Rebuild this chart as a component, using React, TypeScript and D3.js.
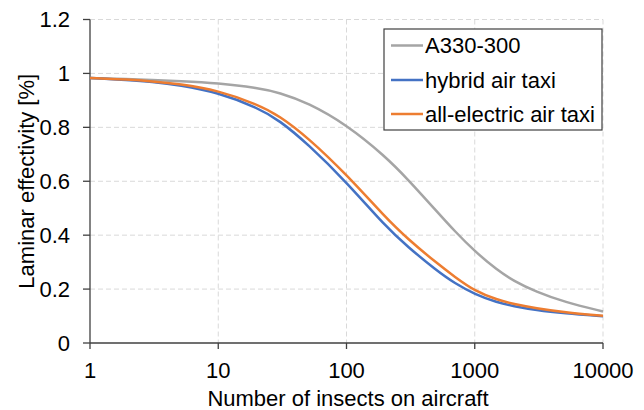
import React from "react";
import * as d3 from "d3";

const insects = [1, 2, 3, 5, 10, 20, 30, 50, 100, 200, 300, 500, 700, 1000, 1500, 2000, 3000, 5000, 10000];
const a330 = [0.983, 0.979, 0.976, 0.972, 0.964, 0.947, 0.929, 0.891, 0.81, 0.693, 0.608, 0.491, 0.414, 0.34, 0.27, 0.231, 0.19, 0.152, 0.117];
const hybrid = [0.983, 0.975, 0.969, 0.957, 0.929, 0.874, 0.826, 0.738, 0.597, 0.434, 0.357, 0.27, 0.221, 0.181, 0.15, 0.137, 0.122, 0.11, 0.099];
const electric = [0.983, 0.977, 0.971, 0.961, 0.937, 0.886, 0.843, 0.762, 0.625, 0.467, 0.386, 0.298, 0.245, 0.193, 0.16, 0.145, 0.129, 0.114, 0.101];

const seriesNames = ["A330-300", "hybrid air taxi", "all-electric air taxi"];
const seriesColors = ["#a5a5a5", "#4472c4", "#ed7d31"];
const seriesValues = [a330, hybrid, electric];

const xTicks = [1, 10, 100, 1000, 10000];
const yTicks = [0, 0.2, 0.4, 0.6, 0.8, 1, 1.2];
const xTitle = "Number of insects on aircraft";
const yTitle = "Laminar effectivity [%]";

const W = 644;
const H = 410;
const left = 90;
const right = 603;
const top = 19.5;
const bottom = 343;
const FONT = "'Liberation Sans', Arial, sans-serif";
const FS = 22;

export default function App() {
  const x = d3.scaleLog().domain([1, 10000]).range([left, right]);
  const y = d3.scaleLinear().domain([0, 1.2]).range([bottom, top]);
  const line = d3
    .line<number>()
    .x((_, i) => x(insects[i]))
    .y((d) => y(d))
    .curve(d3.curveBasis);

  const legendX = 384;
  const legendY = 29;
  const legendW = 218;
  const legendH = 101;
  const rowY = [45.5, 80, 114];

  return (
    <div style={{ position: "absolute", left: 0, top: 0 }}>
      <svg width={W} height={H} style={{ display: "block", background: "#fff" }} fontFamily={FONT}>
        {yTicks.filter((t) => t > 0).map((t) => (
          <line key={"gy" + t} x1={left} x2={right} y1={y(t)} y2={y(t)} stroke="#d9d9d9" strokeWidth={1} strokeDasharray="5,3" />
        ))}
        {xTicks.filter((t) => t > 1).map((t) => (
          <line key={"gx" + t} x1={x(t)} x2={x(t)} y1={top} y2={bottom} stroke="#d9d9d9" strokeWidth={1} strokeDasharray="5,3" />
        ))}
        <line x1={left} x2={left} y1={top} y2={bottom} stroke="#404040" strokeWidth={1.3} />
        <line x1={left} x2={right} y1={bottom} y2={bottom} stroke="#404040" strokeWidth={1.3} />
        {yTicks.map((t) => (
          <g key={"ty" + t}>
            <line x1={left - 7} x2={left} y1={y(t)} y2={y(t)} stroke="#404040" strokeWidth={1.3} />
            <text x={70} y={y(t)} dy="0.36em" textAnchor="end" fontSize={FS} fill="#000">
              {String(t)}
            </text>
          </g>
        ))}
        {xTicks.map((t) => (
          <g key={"tx" + t}>
            <line x1={x(t)} x2={x(t)} y1={bottom} y2={bottom + 6} stroke="#404040" strokeWidth={1.3} />
            <text x={x(t)} y={378} textAnchor="middle" fontSize={FS} fill="#000">
              {String(t)}
            </text>
          </g>
        ))}
        <text x={348} y={406} textAnchor="middle" fontSize={FS} fill="#000">
          {xTitle}
        </text>
        <text transform={`translate(34, ${(top + bottom) / 2}) rotate(-90)`} textAnchor="middle" fontSize={FS} fill="#000">
          {yTitle}
        </text>
        {seriesValues.map((vals, i) => (
          <path key={"s" + i} d={line(vals) || ""} fill="none" stroke={seriesColors[i]} strokeWidth={2.5} />
        ))}
        <rect x={legendX} y={legendY} width={legendW} height={legendH} fill="#fff" stroke="#404040" strokeWidth={1.2} />
        {seriesNames.map((n, i) => (
          <g key={"l" + i}>
            <line x1={391} x2={423} y1={rowY[i]} y2={rowY[i]} stroke={seriesColors[i]} strokeWidth={2.5} />
            <text x={425} y={rowY[i]} dy="0.36em" fontSize={FS} fill="#000">
              {n}
            </text>
          </g>
        ))}
      </svg>
    </div>
  );
}
